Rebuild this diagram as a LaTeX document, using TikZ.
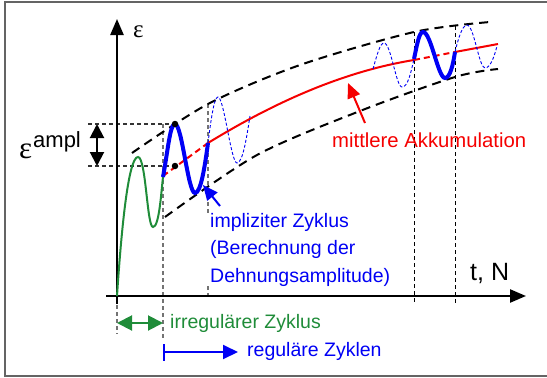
\documentclass[tikz,border=0pt]{standalone}
\usepackage{fontspec}
\setmainfont{Liberation Sans}
\newfontfamily\grk{Liberation Serif}
\usetikzlibrary{arrows.meta,calc}

\definecolor{rahmen}{RGB}{100,100,100}
\definecolor{gruen}{RGB}{31,140,57}
\definecolor{blau}{RGB}{0,0,245}
\definecolor{rot}{RGB}{245,0,0}

\begin{document}
\begin{tikzpicture}[x=1pt, y=-1pt,
  ax/.style={line width=2.4pt, -{Triangle[length=16pt,width=13pt]}},
  env/.style={line width=2pt, dash pattern=on 9pt off 6pt},
  guide/.style={black!55, line width=1.3pt, dash pattern=on 4pt off 3pt},
  hguide/.style={black!80, line width=1.1pt, dash pattern=on 4pt off 3pt},
  vguide/.style={black, line width=0.9pt, dash pattern=on 4pt off 3pt},
  mean/.style={rot, line width=2pt},
  meand/.style={rot, line width=2pt, dash pattern=on 6pt off 4pt},
  cyc/.style={blau, line width=4pt},
  cycd/.style={blau, line width=0.9pt, dash pattern=on 3pt off 2pt},
  punkt/.style={circle, fill=black, inner sep=0pt, minimum size=6.5pt},
  arr/.style={line width=2pt, -{Triangle[length=15pt,width=13pt]}},
  lbl/.style={font=\fontsize{19.5}{27.5}\selectfont, inner sep=0pt, anchor=base west},
  big/.style={font=\fontsize{25}{25}\selectfont, inner sep=0pt, anchor=base west}
]
\useasboundingbox (0,0) rectangle (547,378);
\draw[rahmen, line width=1.8pt] (5,2) rectangle (549,376);

\draw[guide] (163,124) -- (163,338);
\draw[guide] (117,298) -- (117,334);
\draw[guide] (208,104) -- (208,296);
\draw[vguide] (414,32) -- (414,303);
\draw[vguide] (455,26) -- (455,303);
\draw[hguide] (88,124) -- (175,124);
\draw[hguide] (88,166) -- (175,166);

\coordinate (O) at (117,296);
\draw[ax] (117,304) -- (117,19);
\draw[ax] (106,296) -- (526,296);

\draw[env] plot[smooth] coordinates {(132,153) (208,104) (300,65) (414,32) (490,22)};
\draw[env] plot[smooth] coordinates {(165,217) (257,155) (360,111) (455,77) (498,69)};

\draw[meand] (163,176) -- (208,143);
\draw[mean] (208,143) .. controls (270,105) and (340,72) .. (414,60);
\draw[meand] (414,60) -- (455,52);
\draw[mean] (455,52) -- (498,44);

\draw[gruen, line width=2pt] (O) .. controls (121,235) and (128,157) .. (138,157)
  .. controls (146,157) and (147,227) .. (153,227)
  .. controls (159,227) and (161,195) .. (163,177);

\draw[cyc] (163,177) .. controls (168,150) and (170,124) .. (175,124)
  .. controls (182,124) and (188,193) .. (195,193)
  .. controls (201,193) and (205,165) .. (208,143);
\draw[cycd] (208,143) .. controls (211,120) and (214,97) .. (218,97)
  .. controls (224,97) and (231,163) .. (237,163)
  .. controls (243,163) and (247,135) .. (250,116);

\draw[cycd] (373,69) .. controls (377,55) and (380,43) .. (384,43)
  .. controls (391,43) and (396,87) .. (402,87)
  .. controls (408,87) and (411,72) .. (414,59);
\draw[cyc] (414,59) .. controls (417,45) and (419,32) .. (423,32)
  .. controls (431,32) and (438,78) .. (445,78)
  .. controls (450,78) and (453,65) .. (455,52);
\draw[cycd] (455,52) .. controls (458,40) and (462,25) .. (467,25)
  .. controls (474,25) and (479,68) .. (485,68)
  .. controls (490,68) and (494,58) .. (497,46);

\node[punkt] (Pk) at (175,124) {};
\node[punkt] (Mi) at (175,166) {};

\draw[line width=2pt, {Triangle[length=14pt,width=14pt]}-{Triangle[length=14pt,width=14pt]}] (97,124) -- (97,166);

\node[big, font=\grk\fontsize{25}{25}\selectfont] (epsY) at (133,37) {ε};
\node[big] (tN) at (470,280) {t, N};
\node[big, font=\grk\fontsize{31}{31}\selectfont] (epsA) at (19,158) {ε};
\node[big, font=\fontsize{22}{22}\selectfont] (ampl) at (33,147) {ampl};

\node[lbl, rot, font=\fontsize{20.3}{20.3}\selectfont] (AK) at (332,147) {mittlere Akkumulation};
\node[lbl, blau, align=left, fill=white, inner xsep=4pt] (IZ) at (206,282)
  {impliziter Zyklus\\(Berechnung der\\Dehnungsamplitude)};
\node[lbl, gruen] (IR) at (170,328) {irregulärer Zyklus};
\node[lbl, blau] (RZ) at (247,356) {reguläre Zyklen};

\coordinate (aAK) at (365,123);
\coordinate (tAK) at (348,83);
\draw[arr, rot] (aAK) -- (tAK);
\coordinate (aIZ) at (220,206);
\coordinate (tIZ) at (203,185);
\draw[arr, blau] (aIZ) -- (tIZ);
\draw[gruen, line width=2pt, {Triangle[length=15pt,width=15pt]}-{Triangle[length=15pt,width=15pt]}] (117,323) -- (163,323);
\draw[blau, line width=2pt, {Bar[width=17pt]}-{Triangle[length=15pt,width=14pt]}] (163,352) -- (238,352);
\end{tikzpicture}
\end{document}
